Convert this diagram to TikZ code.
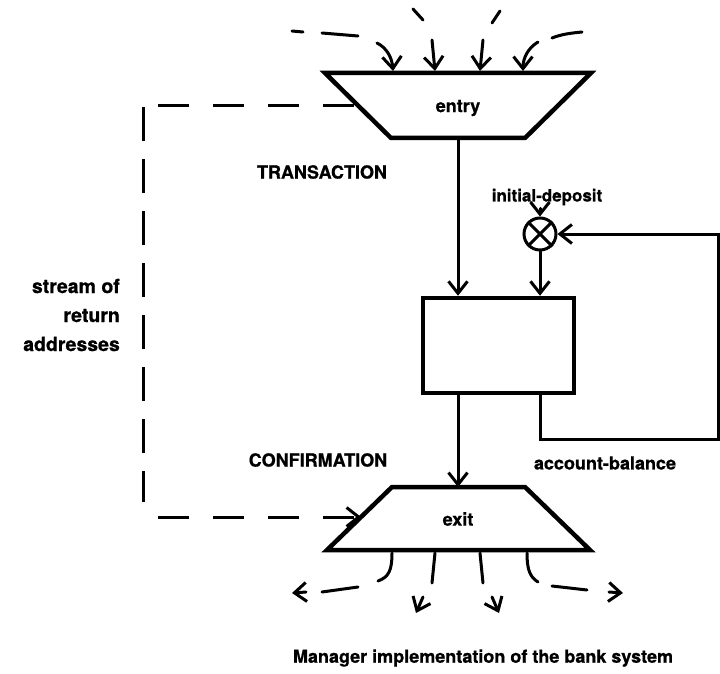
\documentclass[tikz,border=0pt]{standalone}
\usepackage{fontspec}
\setmainfont{TeX Gyre Heros}[BoldFeatures={FakeBold=0.8}]
\usetikzlibrary{arrows.meta}
\begin{document}
\begin{tikzpicture}[x=1pt,y=-1pt,
  lbl/.style={font=\fontsize{18}{29}\selectfont\bfseries, inner sep=0pt},
  wire/.style={line width=3pt, line cap=round},
  tip/.style={-{Straight Barb[length=12pt,width=19pt]}},
  flow/.style={wire, tip},
  loopdash/.style={line width=3pt, dash pattern=on 31pt off 24pt},
  vdash/.style={line width=3pt, dash pattern=on 34pt off 18pt},
  heavy/.style={line width=4.5pt, line join=miter}
]
\useasboundingbox (0,0) rectangle (720,674);

% entry and exit funnels
\draw[heavy] (325,73) -- (591,73) -- (525,138) -- (391,138) -- cycle;
\node[lbl] (entry) at (458,108) {entry};
\coordinate (entryB) at (458,138);
\coordinate (entryL) at (358.5,106);

\draw[heavy] (392,487) -- (525,487) -- (590,550) -- (327,550) -- cycle;
\node[lbl] (exit) at (458,519) {exit};
\coordinate (exitT) at (458,487);
\coordinate (exitL) at (361,517);

% account process and summing junction
\node[draw, heavy, minimum width=151pt, minimum height=95pt, inner sep=0pt] (acct) at (498.5,345.5) {};
\node[draw, circle, line width=3pt, minimum size=32pt, inner sep=0pt] (sum) at (540,234) {};
\draw[line width=3pt] (sum.north west) -- (sum.south east) (sum.north east) -- (sum.south west);

% labels
\node[lbl] (trans) at (322,172) {TRANSACTION};
\node[lbl] (conf) at (318,460) {CONFIRMATION};
\node[lbl, font=\fontsize{17}{29}\selectfont\bfseries] (dep) at (547,197) {initial-deposit};
\node[lbl] (bal) at (605,463) {account-balance};
\node[lbl, font=\fontsize{19.5}{29}\selectfont\bfseries, align=right, anchor=east] (stream) at (120,315) {stream of\\return\\addresses};
\node[lbl] (caption) at (483,658) {Manager implementation of the bank system};

% main flows
\draw[flow] (entryB) -- (acct.north -| entryB);
\draw[flow] (acct.south -| entryB) -- (exitT);
\draw[flow] (dep.south -| sum.north) ++(0,3) -- (sum.north);
\draw[flow] (sum.south) -- (acct.north -| sum.south);
\coordinate (fbR) at (718,439);
\draw[flow] (acct.south -| sum.south) |- (fbR) |- (sum.east);

% return-address stream
\draw[loopdash] (158,106) -- (entryL);
\draw[vdash] (143,107) -- (143,502);
\draw[loopdash, tip] (158,517) -- (exitL);

% incoming requests
\draw[wire] (292,31) -- (303,32);
\draw[wire] (322,33) -- (358,36);
\draw[flow] (377,43) .. controls (387,48) and (392,58) .. (393,71);
\draw[wire] (413,9) -- (423,20);
\draw[flow] (432,40) -- (435,71);
\draw[wire] (500,11) -- (492,23);
\draw[flow] (483,40) -- (480,71);
\draw[wire] (552,38) .. controls (562,34) and (572,33) .. (582,32);
\draw[flow] (538,42) .. controls (528,48) and (523,58) .. (523,71);

% outgoing replies
\draw[wire] (392,553) .. controls (392,570) and (389,577) .. (378,581);
\draw[wire] (358,587) -- (322,592);
\draw[flow] (306,592) -- (292,593);
\draw[wire] (435,553) -- (432,583);
\draw[flow] (423,597) -- (416,613);
\draw[wire] (480,553) -- (483,583);
\draw[flow] (492,597) -- (499,613);
\draw[wire] (527,553) .. controls (527,570) and (530,577) .. (538,582);
\draw[wire] (552,586) -- (587,590);
\draw[flow] (609,592) -- (623,593);
\end{tikzpicture}
\end{document}
